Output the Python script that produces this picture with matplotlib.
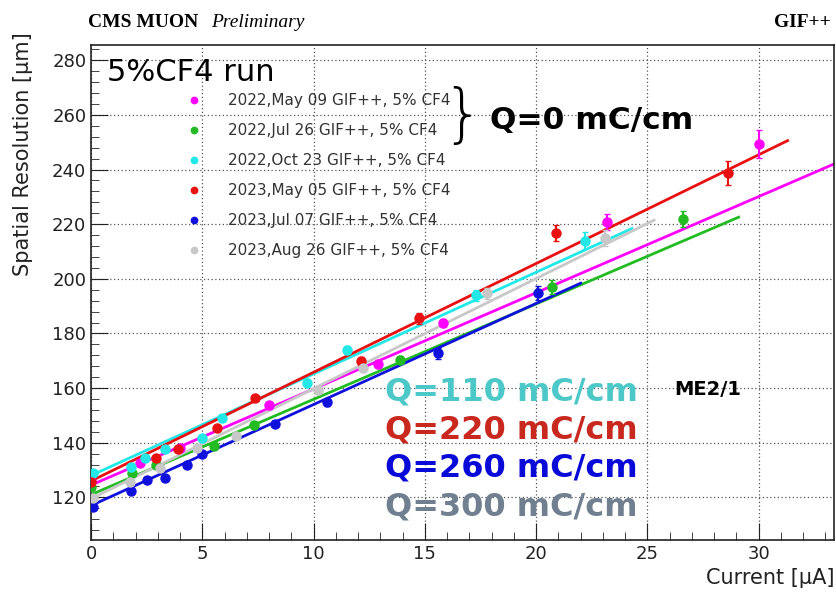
import numpy as np
import matplotlib
matplotlib.use("Agg")
from matplotlib import pyplot as plt
from matplotlib.ticker import MultipleLocator

# measured points: current [uA], resolution [um], error
mag_x = [0, 2.2, 4.0, 8.0, 12.9, 15.8, 23.2, 30.0]
mag_y = [126, 132.5, 138, 153.7, 168.7, 183.7, 220.7, 249.3]
mag_e = [1, 1, 1, 1.2, 1.5, 1.5, 3, 5]

grn_x = [0, 1.85, 2.9, 5.5, 7.3, 13.9, 20.7, 26.6]
grn_y = [123.7, 128.8, 131.7, 138.7, 146.4, 170.2, 197, 221.8]
grn_e = [1, 1, 1, 1, 1, 1.5, 2.5, 3]

cyn_x = [0.1, 1.8, 2.4, 3.3, 5.0, 5.9, 9.7, 11.5, 17.3, 22.2]
cyn_y = [128.8, 131, 134.3, 137.6, 141.6, 149, 162, 173.8, 194, 214]
cyn_e = [1, 1, 1, 1, 1, 1, 1.2, 1.5, 2, 3]

red_x = [0, 2.9, 3.9, 5.65, 7.35, 12.15, 14.75, 20.9, 28.6]
red_y = [125.5, 134.5, 137.6, 145.3, 156.3, 169.8, 185.6, 216.7, 238.7]
red_e = [1, 1, 1, 1, 1.2, 1.5, 2, 3, 4.5]

blu_x = [0.1, 1.8, 2.5, 3.3, 4.3, 5.0, 8.25, 10.6, 15.6, 20.1]
blu_y = [116.3, 122.2, 126.2, 127, 131.7, 135.7, 147, 154.8, 172.7, 194.7]
blu_e = [1, 1, 1, 1, 1, 1, 1, 1.2, 2, 2.5]

gry_x = [0.1, 1.75, 3.1, 4.75, 6.5, 10.2, 12.2, 17.8, 23.1]
gry_y = [119.6, 125.5, 130.6, 138, 142.3, 159.2, 167.3, 194.7, 214.9]
gry_e = [1, 1, 1, 1, 1, 1.2, 1.5, 2, 3]

# linear fits: intercept, slope, end of fit range
fit_b = [124.5, 121, 128, 126, 117, 119.5]
fit_m = [3.52, 3.49, 3.72, 3.98, 3.70, 4.03]
fit_end = [33.4, 29.1, 24.3, 31.3, 22.0, 25.3]

labels = ["2022,May 09 GIF++, 5% CF4", "2022,Jul 26 GIF++, 5% CF4",
          "2022,Oct 23 GIF++, 5% CF4", "2023,May 05 GIF++, 5% CF4",
          "2023,Jul 07 GIF++, 5% CF4", "2023,Aug 26 GIF++, 5% CF4"]
colors = ["#ff00ff", "#22bb22", "#22e8e8", "#e81010", "#1010dd", "#c8c8c8"]

q_text = ["Q=110 mC/cm", "Q=220 mC/cm", "Q=260 mC/cm", "Q=300 mC/cm"]
q_colors = ["#4cc8c8", "#c8281e", "#0a0ad8", "#708090"]

series = [(mag_x, mag_y, mag_e), (grn_x, grn_y, grn_e), (cyn_x, cyn_y, cyn_e),
          (red_x, red_y, red_e), (blu_x, blu_y, blu_e), (gry_x, gry_y, gry_e)]

fig = plt.figure(figsize=(8.36, 5.95), dpi=100)
ax = fig.add_axes([0.109, 0.092, 0.889, 0.832])

handles = []
for (x, y, e), c, b, m, xe in zip(series, colors, fit_b, fit_m, fit_end):
    xx = np.array([0, xe])
    ax.plot(xx, b + m * xx, color=c, lw=2, zorder=2)
    h = ax.errorbar(x, y, yerr=e, fmt="o", color=c, ms=6.5, capsize=2,
                    elinewidth=1.5, zorder=3)
    handles.append(h[0])

ax.set_xlim(0, 33.4)
ax.set_ylim(104.3, 285.5)
ax.xaxis.set_major_locator(MultipleLocator(5))
ax.xaxis.set_minor_locator(MultipleLocator(1))
ax.yaxis.set_major_locator(MultipleLocator(20))
ax.yaxis.set_minor_locator(MultipleLocator(4))
ax.tick_params(which="both", direction="in", top=False, right=False,
               labelsize=13, colors="#222222")
ax.tick_params(which="major", length=12)
ax.tick_params(which="minor", length=6)
ax.grid(True, which="major", ls=(0, (1, 2)), color="#555555", lw=0.9)
for s in ax.spines.values():
    s.set_color("#222222")
    s.set_linewidth(1.2)

ax.set_ylabel("Spatial Resolution [μm]", fontsize=15, color="#222222")
ax.yaxis.set_label_coords(-0.078, 0.78)
fig.text(0.998, 0.012, "Current [μA]", fontsize=15, color="#222222",
         ha="right", va="bottom")

leg = fig.legend(handles, labels, loc="upper left", bbox_to_anchor=(0.205, 0.866),
                 frameon=False, fontsize=11, labelspacing=0.98, handlelength=1.2,
                 handletextpad=1.6, markerscale=0.7)
for t in leg.get_texts():
    t.set_color("#333333")

fig.text(0.128, 0.878, "5%CF4 run", fontsize=22, va="center")
fig.text(0.553, 0.803, "}", fontsize=46, va="center", ha="center",
         fontweight="light")
fig.text(0.586, 0.798, "Q=0 mC/cm", fontsize=22.5, fontweight="bold", va="center")
for i, (t, c) in enumerate(zip(q_text, q_colors)):
    fig.text(0.46, 0.342 - i * 0.0645, t, fontsize=23, fontweight="bold",
             color=c, va="center")
fig.text(0.806, 0.346, "ME2/1", fontsize=14, fontweight="bold", va="center")

fig.text(0.105, 0.962, "CMS MUON", family="Liberation Serif", fontsize=14,
         fontweight="bold", va="center")
fig.text(0.252, 0.962, "Preliminary", family="Liberation Serif", fontsize=14,
         style="italic", va="center")
fig.text(0.994, 0.962, "GIF++", family="Liberation Serif", fontsize=14,
         fontweight="bold", va="center", ha="right")

fig.savefig("out.png", dpi=100)
